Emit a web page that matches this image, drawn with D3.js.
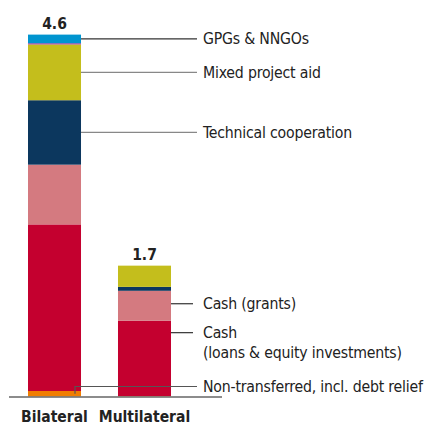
<!DOCTYPE html>
<html>
<head>
<meta charset="utf-8">
<script src="https://cdn.jsdelivr.net/npm/d3@7"></script>
<style>
  body { margin: 0; background: #fff; }
  svg text { font-family: "Liberation Sans Narrow", "DejaVu Sans Condensed", sans-serif; fill: #222; }
</style>
</head>
<body>
<svg id="chart" width="427" height="424"></svg>
<script>
// Data
const categories = ["Bilateral", "Multilateral"];
const totals = ["4.6", "1.7"];
const seriesNames = [
  "Non-transferred, incl. debt relief",
  "Cash (loans & equity investments)",
  "Cash (grants)",
  "Technical cooperation",
  "Mixed project aid",
  "Other",
  "GPGs & NNGOs",
];
const bilateral = [0.07, 2.12, 0.76, 0.82, 0.71, 0.015, 0.11];
const multilateral = [0.005, 0.96, 0.38, 0.05, 0.27, 0, 0];
const colors = ["#f07d00", "#c4002f", "#d47a80", "#0c375e", "#c4be1c", "#a8309a", "#0095d0"];

const svg = d3.select("#chart");

const x = d3.scaleBand().domain(categories).range([9.5, 189.5]).paddingInner(0.411).paddingOuter(0.2056);
const y = d3.scaleLinear().domain([0, 4.6]).range([396.5, 35]);

// stack
const rows = categories.map((c, i) => {
  const vals = i === 0 ? bilateral : multilateral;
  const r = { cat: c };
  seriesNames.forEach((s, j) => (r[s] = vals[j]));
  return r;
});
const stacked = d3.stack().keys(seriesNames)(rows);

svg.append("g")
  .selectAll("g")
  .data(stacked)
  .enter()
  .append("g")
  .attr("fill", (d, i) => colors[i])
  .selectAll("rect")
  .data((d) => d)
  .enter()
  .append("rect")
  .attr("x", (d) => x(d.data.cat))
  .attr("width", x.bandwidth())
  .attr("y", (d) => y(d[1]))
  .attr("height", (d) => y(d[0]) - y(d[1]));

// baseline
svg.append("line")
  .attr("x1", 9).attr("x2", 222)
  .attr("y1", y(0) + 0.5).attr("y2", y(0) + 0.5)
  .attr("stroke", "#666").attr("stroke-width", 1.6);

// totals
svg.selectAll(".total")
  .data(categories)
  .enter()
  .append("text")
  .attr("class", "total")
  .attr("x", (d) => x(d) + x.bandwidth() / 2)
  .attr("y", (d, i) => y(d3.sum(i === 0 ? bilateral : multilateral)) - 6)
  .attr("text-anchor", "middle")
  .style("font-weight", "bold")
  .style("font-size", "15.5px")
  .text((d, i) => totals[i]);

// category labels
svg.selectAll(".cat")
  .data(categories)
  .enter()
  .append("text")
  .attr("class", "cat")
  .attr("x", (d) => x(d) + x.bandwidth() / 2)
  .attr("y", 421.5)
  .attr("text-anchor", "middle")
  .style("font-weight", "bold")
  .style("font-size", "15.5px")
  .text((d) => d);

// annotations
const labelX = 203;
const lineEnd = 197;
const fs = "15.7px";
const segMid = (stackIdx, catIdx) => {
  const s = stacked[stackIdx][catIdx];
  return (y(s[0]) + y(s[1])) / 2;
};
const bRight = x("Bilateral") + x.bandwidth();
const mRight = x("Multilateral") + x.bandwidth();
const bLeft = x("Bilateral");

const notes = [
  { from: bRight, y: segMid(6, 0), color: "#333", lines: ["GPGs & NNGOs"] },
  { from: bRight, y: segMid(4, 0), color: "#888", lines: ["Mixed project aid"] },
  { from: bRight, y: segMid(3, 0), color: "#888", lines: ["Technical cooperation"] },
  { from: mRight, y: segMid(2, 1) - 2, color: "#333", lines: ["Cash (grants)"] },
  { from: mRight, y: y(stacked[1][1][1]) + 12, color: "#333", lines: ["Cash", "(loans & equity investments)"] },
];

notes.forEach((n) => {
  svg.append("line")
    .attr("x1", n.from).attr("x2", n.from === mRight ? 193 : lineEnd)
    .attr("y1", n.y).attr("y2", n.y)
    .attr("stroke", n.color).attr("stroke-width", 1.2);
  const t = svg.append("text")
    .attr("x", labelX)
    .attr("y", n.y + 5.5)
    .style("font-size", fs)
    .style("letter-spacing", "-0.2px");
  n.lines.forEach((l, k) => {
    t.append("tspan").attr("x", labelX).attr("dy", k === 0 ? 0 : 20).text(l);
  });
});

// non-transferred elbow
const ntX = bLeft + 47;
const ntY = 386.5;
svg.append("path")
  .attr("d", `M${ntX},${segMid(0, 0)}V${ntY}H${lineEnd}`)
  .attr("fill", "none")
  .attr("stroke", "#555")
  .attr("stroke-width", 1.2);
svg.append("text")
  .attr("x", labelX)
  .attr("y", ntY + 5.5)
  .style("font-size", fs)
  .style("letter-spacing", "-0.2px")
  .text(seriesNames[0]);
</script>
</body>
</html>
